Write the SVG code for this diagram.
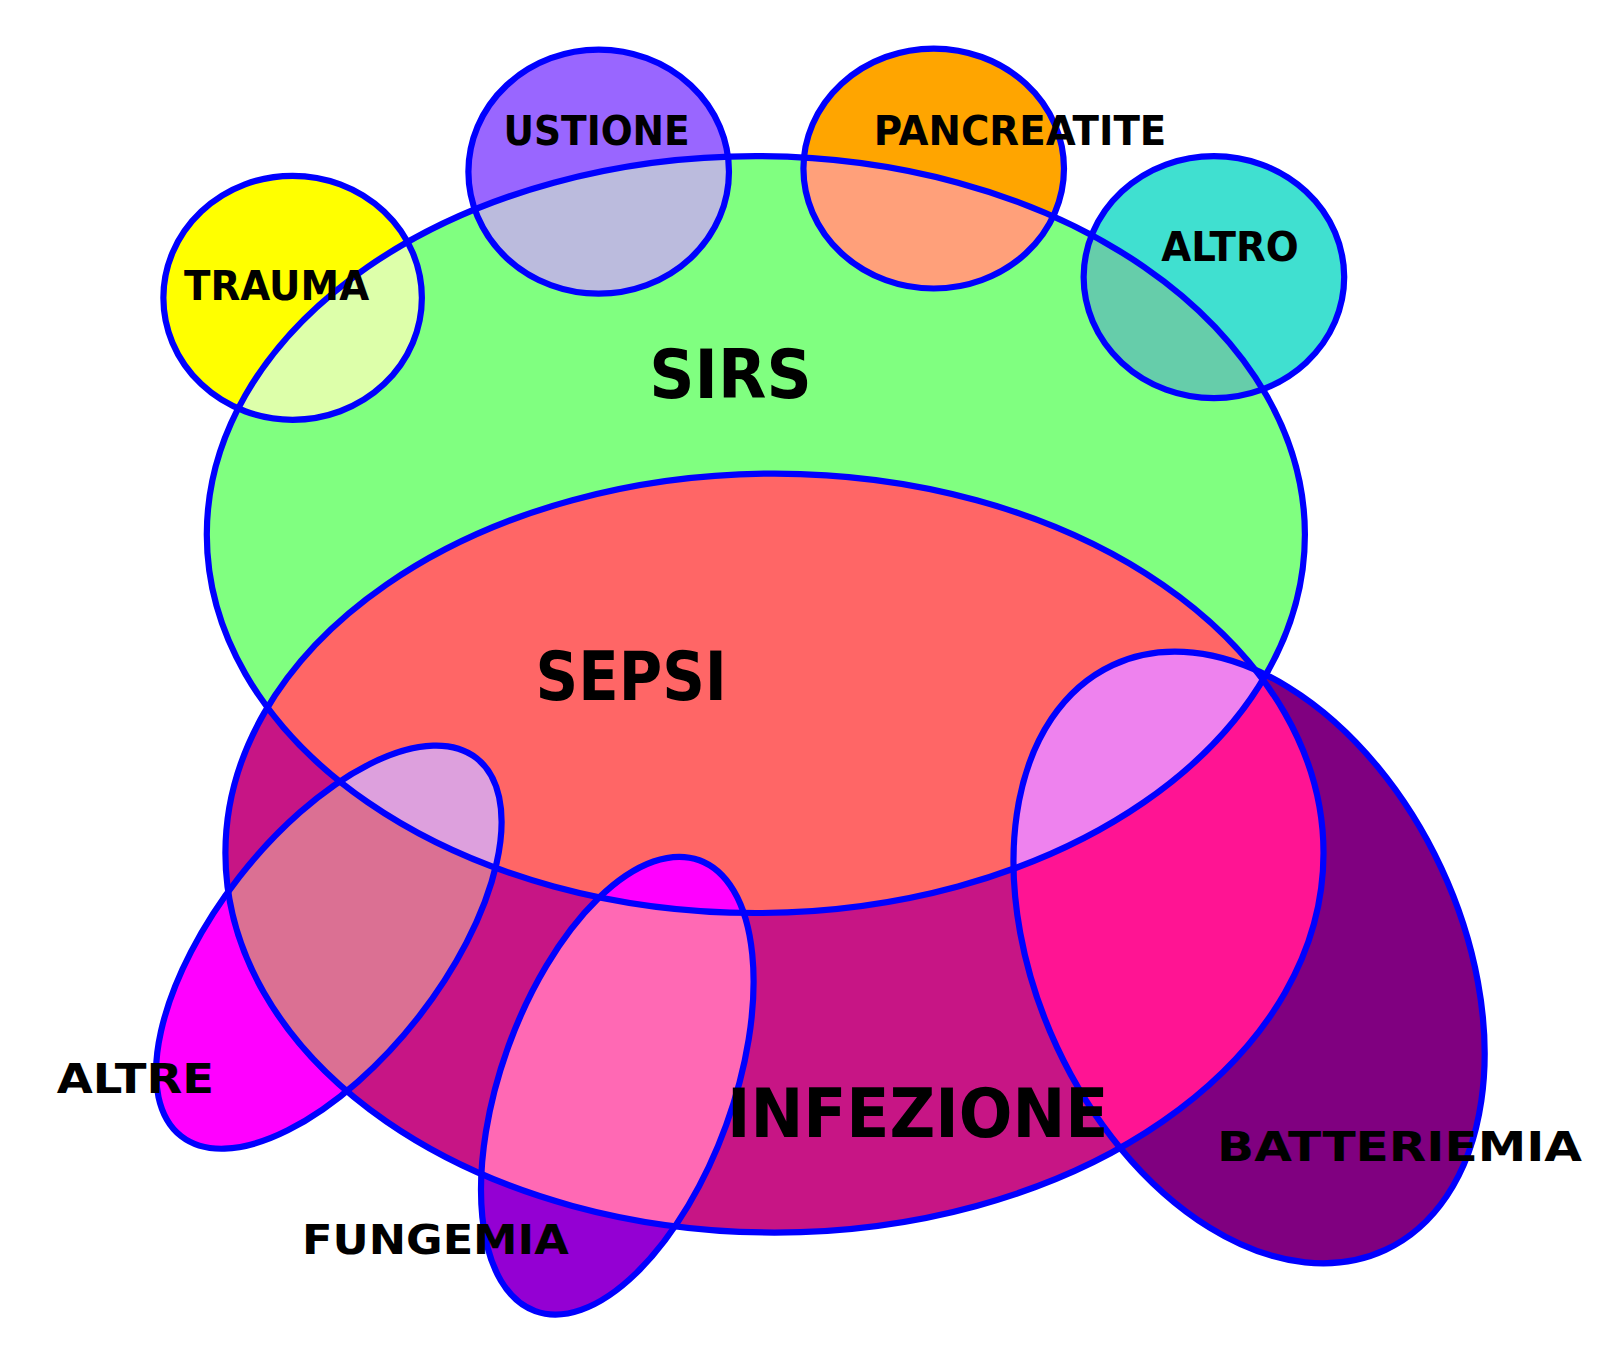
<svg xmlns="http://www.w3.org/2000/svg" width="1613" height="1364" viewBox="0 0 1613 1364">
<style>
.o{fill:none;stroke:#0000FF;stroke-width:6}
text{font-family:"DejaVu Sans",sans-serif;font-weight:bold;fill:#000}
.s{font-size:40px}.b{font-size:66px}
</style>
<defs>
<ellipse id="sirs" cx="731" cy="517" rx="531" ry="366"/>
<ellipse id="inf" cx="749" cy="825" rx="531" ry="367"/>
<ellipse id="trauma" cx="283" cy="288" rx="125" ry="118"/>
<ellipse id="ust" cx="579" cy="166" rx="126" ry="118"/>
<ellipse id="pan" cx="903" cy="163" rx="126" ry="116"/>
<ellipse id="altro" cx="1174" cy="268" rx="126" ry="117"/>
<ellipse id="batt" cx="0" cy="0" rx="205" ry="312" transform="translate(1208,926) rotate(-25)"/>
<ellipse id="altre" cx="0" cy="0" rx="110" ry="232" transform="translate(318,916) rotate(38)"/>
<ellipse id="fung" cx="0" cy="0" rx="112" ry="232" transform="translate(597,1050) rotate(20)"/>
<clipPath id="cS"><use href="#sirs"/></clipPath>
<clipPath id="cI"><use href="#inf"/></clipPath>
</defs>
<rect width="1613" height="1364" fill="#fff"/>
<g transform="scale(1.034)">
<g id="regions">
<use href="#sirs" fill="#80FF80"/>
<use href="#inf" fill="#C71585"/>
<use href="#inf" fill="#FF6666" clip-path="url(#cS)"/>
<use href="#trauma" fill="#FFFF00"/><use href="#trauma" fill="#DDFFAA" clip-path="url(#cS)"/>
<use href="#ust" fill="#9966FF"/><use href="#ust" fill="#BBBBDD" clip-path="url(#cS)"/>
<use href="#pan" fill="#FFA500"/><use href="#pan" fill="#FFA07A" clip-path="url(#cS)"/>
<use href="#altro" fill="#40E0D0"/><use href="#altro" fill="#66CDAA" clip-path="url(#cS)"/>
<use href="#batt" fill="#800080"/><use href="#batt" fill="#FF1493" clip-path="url(#cI)"/>
<g clip-path="url(#cI)"><use href="#batt" fill="#EE82EE" clip-path="url(#cS)"/></g>
<use href="#altre" fill="#FF00FF"/><use href="#altre" fill="#DB7093" clip-path="url(#cI)"/>
<use href="#altre" fill="#DDA0DD" clip-path="url(#cS)"/>
<use href="#fung" fill="#9400D3"/><use href="#fung" fill="#FF69B4" clip-path="url(#cI)"/>
<g clip-path="url(#cI)"><use href="#fung" fill="#FF00FF" clip-path="url(#cS)"/></g>
</g>
<g id="outlines">
<use href="#sirs" class="o"/><use href="#inf" class="o"/>
<use href="#trauma" class="o"/><use href="#ust" class="o"/><use href="#pan" class="o"/><use href="#altro" class="o"/>
<use href="#batt" class="o"/><use href="#altre" class="o"/><use href="#fung" class="o"/>
</g>
<g id="labels">
<text class="s" x="178" y="290" textLength="179" lengthAdjust="spacingAndGlyphs">TRAUMA</text>
<text class="s" x="487" y="140" textLength="180" lengthAdjust="spacingAndGlyphs">USTIONE</text>
<text class="s" x="845" y="140" textLength="283" lengthAdjust="spacingAndGlyphs">PANCREATITE</text>
<text class="s" x="1123" y="252" textLength="133" lengthAdjust="spacingAndGlyphs">ALTRO</text>
<text class="b" x="628" y="385" textLength="157" lengthAdjust="spacingAndGlyphs">SIRS</text>
<text class="b" x="518" y="677" textLength="185" lengthAdjust="spacingAndGlyphs">SEPSI</text>
<text class="b" x="703" y="1100" textLength="369" lengthAdjust="spacingAndGlyphs">INFEZIONE</text>
<text class="s" x="55" y="1057" textLength="152" lengthAdjust="spacingAndGlyphs">ALTRE</text>
<text class="s" x="292" y="1213" textLength="258" lengthAdjust="spacingAndGlyphs">FUNGEMIA</text>
<text class="s" x="1177" y="1123" textLength="353" lengthAdjust="spacingAndGlyphs">BATTERIEMIA</text>
</g>
</g>
</svg>
